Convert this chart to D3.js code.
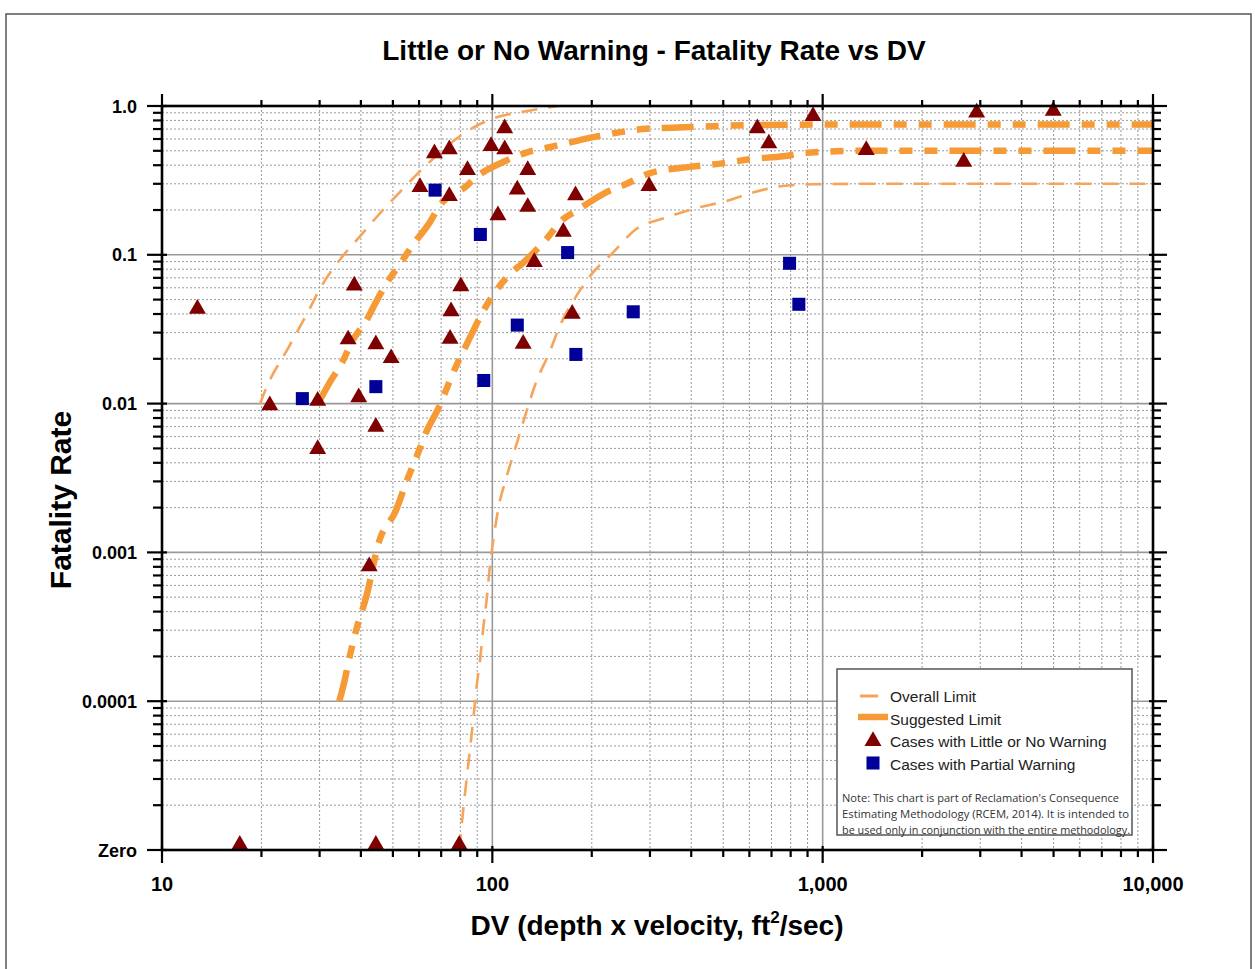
<!DOCTYPE html>
<html>
<head>
<meta charset="utf-8">
<script src="https://cdn.jsdelivr.net/npm/d3@7"></script>
<style>
body { margin: 0; background: #fff; }
</style>
</head>
<body>
<svg id="chart" width="1255" height="969"></svg>
<script>
// Axis ticks
const xTicks = [10, 100, 1000, 10000];
const xTickLabels = ["10", "100", "1,000", "10,000"];
const yTicks = [0.00001, 0.0001, 0.001, 0.01, 0.1, 1];
const yTickLabels = ["Zero", "0.0001", "0.001", "0.01", "0.1", "1.0"];

// Limit curves, [DV, fatality rate]
const overallUpper = [[19.8, 0.0099], [20.2, 0.0112], [24.3, 0.0244], [27.9, 0.0428], [30.0, 0.0586],
    [35, 0.0961], [39.5, 0.131], [45.5, 0.188], [52.3, 0.262], [63.6, 0.407], [86.7, 0.708],
    [100, 0.82], [129, 0.93], [158, 1.0]];
const suggestedUpper = [[30, 0.0105], [32.2, 0.0139], [35, 0.0187], [37.9, 0.027], [41.5, 0.036],
    [44.4, 0.048], [48, 0.065], [53, 0.089], [57, 0.114], [65, 0.168], [69, 0.212], [83, 0.287],
    [90, 0.337], [109, 0.425], [128, 0.49], [150, 0.53], [204, 0.62], [242, 0.665], [285, 0.70],
    [383, 0.72], [510, 0.737], [1000, 0.75], [10000, 0.75]];
const suggestedLower = [[34.4, 0.0001], [35.5, 0.00013], [37, 0.0002], [38.7, 0.0003], [41.5, 0.0005],
    [45.5, 0.0012], [51, 0.0019], [55, 0.003], [59, 0.0044], [63, 0.0064], [69, 0.0095], [76, 0.016],
    [85, 0.027], [94.5, 0.043], [103, 0.058], [115, 0.077], [123, 0.087], [145, 0.126], [163, 0.172],
    [180, 0.198], [219, 0.26], [255, 0.30], [296, 0.35], [397, 0.39], [490, 0.41], [610, 0.44],
    [760, 0.46], [900, 0.485], [1300, 0.5], [10000, 0.5]];
const overallLower = [[79.5, 0.00001], [80.3, 0.0000129], [81.6, 0.0000185], [83.5, 0.0000294],
    [85.5, 0.0000468], [87.5, 0.0000745], [89.6, 0.000125], [91.8, 0.000189], [94, 0.00032],
    [96.1, 0.00048], [98.4, 0.00082], [100.9, 0.00125], [105, 0.00214], [109.4, 0.0030],
    [116.6, 0.00478], [126.5, 0.00865], [135.5, 0.0138], [148.8, 0.022], [159.8, 0.033],
    [179.5, 0.0528], [197.6, 0.072], [231.7, 0.1035], [272, 0.1485], [336, 0.178], [404, 0.203],
    [511, 0.23], [615, 0.262], [759, 0.29], [935, 0.298], [1300, 0.30], [10000, 0.30]];

// Cases, [DV, fatality rate]
const littleWarning = [[12.8, 0.044], [21.2, 0.0099], [29.6, 0.0106], [39.4, 0.0112], [38.2, 0.063],
    [36.6, 0.0274], [44.4, 0.0254], [49.4, 0.0205], [80.3, 0.0623], [75, 0.0423], [74.5, 0.0277],
    [124, 0.0256], [134, 0.0908], [164, 0.145], [104, 0.187], [128, 0.213], [119, 0.279],
    [128, 0.377], [84.1, 0.377], [74.1, 0.252], [60.4, 0.29], [66.8, 0.488], [74.1, 0.519],
    [99.1, 0.546], [109, 0.519], [109, 0.718], [44.4, 0.0071], [29.6, 0.00503], [42.4, 0.00082],
    [17.2, 0.000011], [44.4, 0.000011], [79.4, 0.000011], [178.6, 0.255], [174.5, 0.0408],
    [298, 0.294], [634, 0.718], [687, 0.569], [935, 0.87], [1355, 0.513], [2925, 0.916],
    [4990, 0.944], [2673, 0.428]];
const partialWarning = [[26.6, 0.0108], [44.4, 0.013], [67.1, 0.272], [92, 0.137], [94.2, 0.0143],
    [119, 0.0337], [169, 0.1035], [179, 0.0214], [267, 0.0414], [794, 0.0877], [847, 0.0465]];

const orangeThin = "#f5a45a";
const orangeThick = "#f59a35";
const triColor = "#7e0000";
const sqColor = "#000099";
const font = "'Liberation Sans', Arial, sans-serif";

const svg = d3.select("#chart");
const pLeft = 162, pRight = 1153, pTop = 106, pBottom = 850;

const x = d3.scaleLog().domain([10, 10000]).range([pLeft, pRight]);
const y = d3.scaleLog().domain([0.00001, 1]).range([pBottom, pTop]);

const xMinor = x.ticks().filter(d => !xTicks.includes(d));
const yMinor = y.ticks().filter(d => !yTicks.some(t => Math.abs(t - d) / t < 1e-6));

// Outer frame
svg.append("rect")
    .attr("x", 6).attr("y", 14)
    .attr("width", 1245).attr("height", 1000)
    .attr("fill", "none")
    .attr("stroke", "#555")
    .attr("stroke-width", 1.5);

// Title
svg.append("text")
    .attr("x", 654).attr("y", 60)
    .attr("text-anchor", "middle")
    .attr("font-family", font)
    .attr("font-weight", "bold")
    .style("font-size", "28px")
    .text("Little or No Warning - Fatality Rate vs DV");

// Gridlines
const grid = svg.append("g");
grid.selectAll(".vminor").data(xMinor).enter().append("line")
    .attr("x1", d => x(d)).attr("x2", d => x(d))
    .attr("y1", pTop).attr("y2", pBottom)
    .attr("stroke", "#999").attr("stroke-width", 1)
    .attr("stroke-dasharray", "2,2");
grid.selectAll(".hminor").data(yMinor).enter().append("line")
    .attr("x1", pLeft).attr("x2", pRight)
    .attr("y1", d => y(d)).attr("y2", d => y(d))
    .attr("stroke", "#999").attr("stroke-width", 1)
    .attr("stroke-dasharray", "2,2");
grid.selectAll(".vmajor").data(xTicks.slice(1, -1)).enter().append("line")
    .attr("x1", d => x(d)).attr("x2", d => x(d))
    .attr("y1", pTop).attr("y2", pBottom)
    .attr("stroke", "#999").attr("stroke-width", 1.6);
grid.selectAll(".hmajor").data(yTicks.slice(1, -1)).enter().append("line")
    .attr("x1", pLeft).attr("x2", pRight)
    .attr("y1", d => y(d)).attr("y2", d => y(d))
    .attr("stroke", "#999").attr("stroke-width", 1.6);

// Limit curves
svg.append("clipPath").attr("id", "plotClip")
    .append("rect").attr("x", pLeft).attr("y", pTop)
    .attr("width", pRight - pLeft).attr("height", pBottom - pTop);

const line = d3.line()
    .x(d => x(d[0]))
    .y(d => y(d[1]))
    .curve(d3.curveMonotoneX);

const curves = svg.append("g").attr("clip-path", "url(#plotClip)");
[overallUpper, overallLower].forEach(c => {
    curves.append("path")
        .datum(c)
        .attr("fill", "none")
        .attr("stroke", orangeThin)
        .attr("stroke-width", 2.6)
        .attr("stroke-dasharray", "16,11")
        .attr("d", line);
});
[suggestedUpper, suggestedLower].forEach(c => {
    curves.append("path")
        .datum(c)
        .attr("fill", "none")
        .attr("stroke", orangeThick)
        .attr("stroke-width", 6.5)
        .attr("stroke-dasharray", "32,12,13,12,13,12")
        .attr("d", line);
});

// Markers
const triangle = d3.symbol().type(d3.symbolTriangle).size(125);
const square = d3.symbol().type(d3.symbolSquare).size(170);

svg.append("g")
    .selectAll("path")
    .data(littleWarning)
    .enter()
    .append("path")
    .attr("transform", d => `translate(${x(d[0])},${y(d[1]) + 1})`)
    .attr("d", triangle())
    .attr("fill", triColor);

svg.append("g")
    .selectAll("path")
    .data(partialWarning)
    .enter()
    .append("path")
    .attr("transform", d => `translate(${x(d[0])},${y(d[1])})`)
    .attr("d", square())
    .attr("fill", sqColor);

// Axes: frame lines plus ticks on all four sides
const axes = svg.append("g").attr("stroke", "#000");
axes.append("rect")
    .attr("x", pLeft).attr("y", pTop)
    .attr("width", pRight - pLeft).attr("height", pBottom - pTop)
    .attr("fill", "none").attr("stroke-width", 2.6);

function ticks(values, len, side, inner) {
    axes.append("g").selectAll("line").data(values).enter().append("line")
        .attr("stroke-width", 2.2)
        .each(function(d) {
            const el = d3.select(this);
            if (side === "bottom" || side === "top") {
                const y0 = side === "bottom" ? pBottom : pTop;
                const s = side === "bottom" ? 1 : -1;
                el.attr("x1", x(d)).attr("x2", x(d))
                  .attr("y1", y0 - s * inner).attr("y2", y0 + s * len);
            } else {
                const x0 = side === "left" ? pLeft : pRight;
                const s = side === "left" ? -1 : 1;
                el.attr("y1", y(d)).attr("y2", y(d))
                  .attr("x1", x0 - s * inner).attr("x2", x0 + s * len);
            }
        });
}
ticks(xMinor, 7, "bottom", 0);
ticks(xTicks, 13, "bottom", 4);
ticks(xMinor, 6, "top", 0);
ticks(xTicks, 12, "top", 4);
ticks(yMinor, 9, "left", 0);
ticks(yTicks, 15, "left", 5);
ticks(yMinor, 8, "right", 0);
ticks(yTicks, 14, "right", 4);

// Tick labels
svg.append("g").selectAll("text").data(xTicks).enter().append("text")
    .attr("x", d => x(d))
    .attr("y", pBottom + 41)
    .attr("text-anchor", "middle")
    .attr("font-family", font)
    .attr("font-weight", "bold")
    .style("font-size", "20px")
    .text((d, i) => xTickLabels[i]);

svg.append("g").selectAll("text").data(yTicks).enter().append("text")
    .attr("x", pLeft - 25)
    .attr("y", d => y(d) + 6.5)
    .attr("text-anchor", "end")
    .attr("font-family", font)
    .attr("font-weight", "bold")
    .style("font-size", "18px")
    .text((d, i) => yTickLabels[i]);

// Axis titles
const xTitle = svg.append("text")
    .attr("x", 657).attr("y", 935)
    .attr("text-anchor", "middle")
    .attr("font-family", font)
    .attr("font-weight", "bold")
    .style("font-size", "28px");
xTitle.append("tspan").text("DV (depth x velocity, ft");
xTitle.append("tspan").attr("dy", -12).style("font-size", "17px").text("2");
xTitle.append("tspan").attr("dy", 12).text("/sec)");

svg.append("text")
    .attr("transform", "rotate(-90)")
    .attr("x", -500).attr("y", 71)
    .attr("text-anchor", "middle")
    .attr("font-family", font)
    .attr("font-weight", "bold")
    .style("font-size", "30px")
    .text("Fatality Rate");

// Legend
const lg = svg.append("g");
lg.append("rect")
    .attr("x", 837).attr("y", 669)
    .attr("width", 295).attr("height", 166)
    .attr("fill", "#fff").attr("stroke", "#555").attr("stroke-width", 1.5);
lg.append("line")
    .attr("x1", 860).attr("x2", 878).attr("y1", 696).attr("y2", 696)
    .attr("stroke", orangeThin).attr("stroke-width", 3);
lg.append("line")
    .attr("x1", 858).attr("x2", 888).attr("y1", 717).attr("y2", 717)
    .attr("stroke", orangeThick).attr("stroke-width", 6.5);
lg.append("path").attr("transform", "translate(873,741)").attr("d", triangle()).attr("fill", triColor);
lg.append("path").attr("transform", "translate(873,763)").attr("d", square()).attr("fill", sqColor);

const legendLabels = ["Overall Limit", "Suggested Limit", "Cases with Little or No Warning", "Cases with Partial Warning"];
lg.selectAll(".lbl").data(legendLabels).enter().append("text")
    .attr("x", 890)
    .attr("y", (d, i) => 702 + i * 22.5)
    .attr("font-family", font)
    .style("font-size", "15.5px")
    .attr("fill", "#222")
    .text(d => d);

const noteLines = ["Note:  This chart is part of Reclamation's Consequence",
    "Estimating Methodology (RCEM, 2014).  It is intended to",
    "be used only in conjunction with the entire methodology."];
const noteWidths = [277, 287, 288];
lg.selectAll(".note").data(noteLines).enter().append("text")
    .attr("x", 842)
    .attr("y", (d, i) => 802 + i * 16)
    .attr("font-family", "'Open Sans', sans-serif")
    .style("font-size", "10.5px")
    .attr("fill", "#333")
    .attr("textLength", (d, i) => noteWidths[i])
    .attr("lengthAdjust", "spacingAndGlyphs")
    .text(d => d);
</script>
</body>
</html>
